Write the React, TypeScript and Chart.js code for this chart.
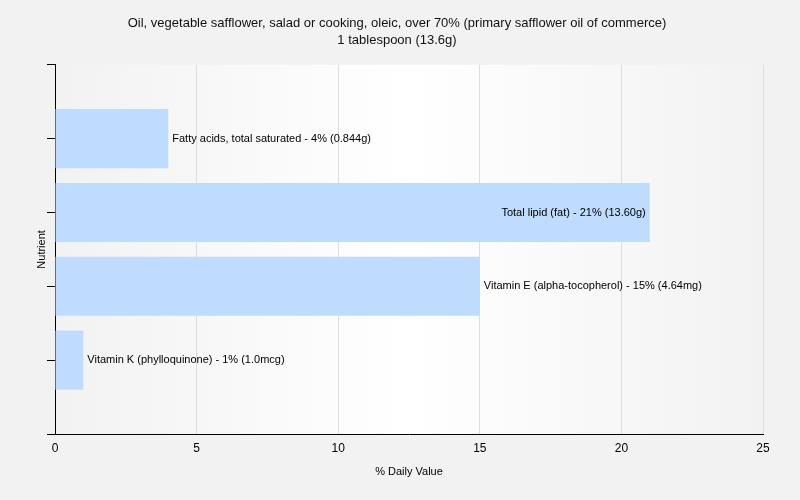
import React, { useEffect, useRef } from "react";
import { Chart, registerables } from "chart.js";

Chart.register(...registerables);

const titleLines = [
  "Oil, vegetable safflower, salad or cooking, oleic, over 70% (primary safflower oil of commerce)",
  "1 tablespoon (13.6g)",
];
// empty slots at both ends keep the axis ticks where the reference has them
const nutrients = [
  "",
  "Fatty acids, total saturated",
  "Total lipid (fat)",
  "Vitamin E (alpha-tocopherol)",
  "Vitamin K (phylloquinone)",
  "",
];
const dailyValues: (number | null)[] = [null, 4, 21, 15, 1, null];
const amounts = ["", "0.844g", "13.60g", "4.64mg", "1.0mcg", ""];
const xTicks = [0, 5, 10, 15, 20, 25];

const FONT = "'Liberation Sans', Arial, sans-serif";

const backgroundPlugin = {
  id: "bgPlugin",
  beforeDraw(chart: any) {
    const { ctx, chartArea, width, height } = chart;
    ctx.save();
    ctx.fillStyle = "#f2f2f2";
    ctx.fillRect(0, 0, width, height);
    const g = ctx.createLinearGradient(chartArea.left, 0, chartArea.right, 0);
    g.addColorStop(0, "#f2f2f2");
    g.addColorStop(0.5, "#ffffff");
    g.addColorStop(1, "#f2f2f2");
    ctx.fillStyle = g;
    ctx.fillRect(chartArea.left, chartArea.top, chartArea.right - chartArea.left, chartArea.bottom - chartArea.top);
    ctx.restore();
  },
};

const barLabelPlugin = {
  id: "barLabels",
  afterDatasetsDraw(chart: any) {
    const { ctx, chartArea } = chart;
    const meta = chart.getDatasetMeta(0);
    ctx.save();
    ctx.font = `11px ${FONT}`;
    ctx.fillStyle = "#000";
    ctx.textBaseline = "middle";
    meta.data.forEach((bar: any, i: number) => {
      const v = dailyValues[i];
      if (v === null || v === undefined) return;
      const text = `${nutrients[i]} - ${v}% (${amounts[i]})`;
      const w = ctx.measureText(text).width;
      const end = bar.x;
      if (end + 4 + w > chartArea.right) {
        ctx.textAlign = "right";
        ctx.fillText(text, end - 4, bar.y);
      } else {
        ctx.textAlign = "left";
        ctx.fillText(text, end + 4, bar.y);
      }
    });
    ctx.restore();
  },
};

export default function App() {
  const ref = useRef<HTMLCanvasElement | null>(null);

  useEffect(() => {
    document.body.style.margin = "0";
    if (!ref.current) return;
    const chart = new Chart(ref.current, {
      type: "bar",
      data: {
        labels: nutrients,
        datasets: [
          {
            data: dailyValues,
            backgroundColor: "#bfdbfd",
            borderWidth: 0,
            categoryPercentage: 0.8,
            barPercentage: 1,
          },
        ],
      },
      options: {
        indexAxis: "y",
        animation: false,
        responsive: true,
        maintainAspectRatio: false,
        layout: { padding: { left: 31, right: 37, top: 0, bottom: 0 } },
        plugins: {
          legend: { display: false },
          tooltip: { enabled: false },
          title: {
            display: true,
            text: titleLines,
            color: "#111",
            font: { family: FONT, size: 13, weight: "normal", lineHeight: 1.3 },
            padding: { top: 15, bottom: 16 },
          },
        },
        scales: {
          x: {
            type: "linear",
            min: 0,
            max: 25,
            afterBuildTicks(scale: any) {
              scale.ticks = xTicks.map((v) => ({ value: v }));
            },
            afterFit(scale: any) {
              scale.height = 66;
            },
            ticks: {
              color: "#000",
              font: { family: FONT, size: 12 },
              padding: 7,
            },
            grid: {
              color: "#dddddd",
              drawTicks: false,
            },
            border: { display: true, color: "#000", width: 1 },
            title: {
              display: true,
              text: "% Daily Value",
              color: "#000",
              font: { family: FONT, size: 11 },
              padding: { top: 0, bottom: 21 },
            },
          },
          y: {
            type: "category",
            offset: false,
            afterFit(scale: any) {
              scale.width = 24;
            },
            ticks: {
              callback: () => "",
              autoSkip: false,
              padding: 0,
            },
            grid: {
              offset: false,
              drawOnChartArea: false,
              drawTicks: true,
              tickLength: 8,
              color: "#000",
            },
            border: { display: true, color: "#000", width: 1 },
            title: {
              display: true,
              text: "Nutrient",
              color: "#000",
              font: { family: FONT, size: 11 },
              padding: { top: 4, bottom: 0 },
            },
          },
        },
      },
      plugins: [backgroundPlugin, barLabelPlugin],
    } as any);
    return () => chart.destroy();
  }, []);

  return (
    <div style={{ width: 800, height: 500, position: "relative" }}>
      <canvas ref={ref} />
    </div>
  );
}
